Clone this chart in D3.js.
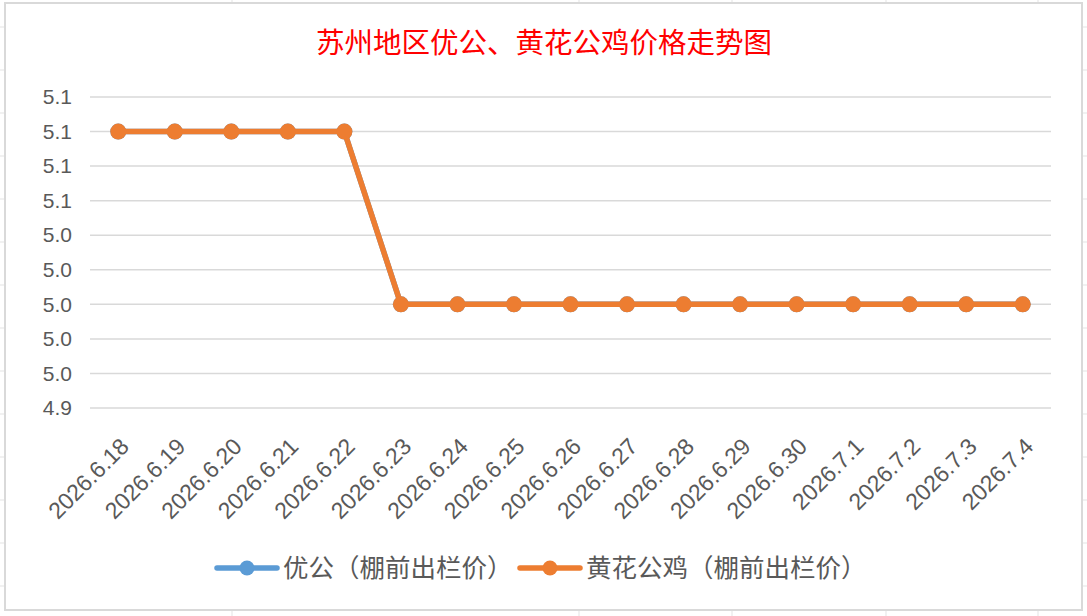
<!DOCTYPE html>
<html>
<head>
<meta charset="utf-8">
<script src="https://cdn.jsdelivr.net/npm/d3@7/dist/d3.min.js"></script>
<style>
  html, body { margin: 0; padding: 0; background: #fff; }
  svg { display: block; }
</style>
</head>
<body>
<div id="chart"></div>
<script>
// 数据
var dates = ["2026.6.18","2026.6.19","2026.6.20","2026.6.21","2026.6.22","2026.6.23","2026.6.24","2026.6.25","2026.6.26","2026.6.27","2026.6.28","2026.6.29","2026.6.30","2026.7.1","2026.7.2","2026.7.3","2026.7.4"];
var youGong = [5.10,5.10,5.10,5.10,5.10,5.00,5.00,5.00,5.00,5.00,5.00,5.00,5.00,5.00,5.00,5.00,5.00];
var huangHua = [5.10,5.10,5.10,5.10,5.10,5.00,5.00,5.00,5.00,5.00,5.00,5.00,5.00,5.00,5.00,5.00,5.00];
var yTicks = [4.94,4.96,4.98,5.00,5.02,5.04,5.06,5.08,5.10,5.12];
var seriesNames = ["优公（棚前出栏价）","黄花公鸡（棚前出栏价）"];
var title = "苏州地区优公、黄花公鸡价格走势图";

var width = 1087, height = 616;
var padding = { left: 90, right: 36, top: 97, bottom: 208 };
var colorArr = ["#5B9BD5", "#ED7D31"];
var textColor = "#595959";

var svg = d3.select("#chart").append("svg")
  .attr("width", width)
  .attr("height", height);

// 背景表格线
var sheet = svg.append("g").attr("class", "sheet");
d3.range(27, height, 43).forEach(function(y){
  sheet.append("line").attr("x1", 0).attr("x2", width).attr("y1", y).attr("y2", y)
    .attr("stroke", "#e3e3e3").attr("stroke-width", 1);
});
[232, 579, 732, 886, 1038].forEach(function(x){
  sheet.append("line").attr("x1", x).attr("x2", x).attr("y1", 0).attr("y2", height)
    .attr("stroke", "#e3e3e3").attr("stroke-width", 1);
});

// 图表区
svg.append("rect")
  .attr("x", 5).attr("y", 3)
  .attr("width", 1077).attr("height", 607)
  .attr("fill", "#fff")
  .attr("stroke", "#d9d9d9")
  .attr("stroke-width", 2);

svg.append("text")
  .attr("x", 544).attr("y", 53)
  .attr("text-anchor", "middle")
  .attr("fill", "#FF0000")
  .style("font-family", "'Noto Sans CJK SC', sans-serif")
  .style("font-size", "28.5px")
  .text(title);

var x_scale = d3.scaleBand()
  .domain(dates)
  .range([padding.left, width - padding.right]);
var y_scale = d3.scaleLinear()
  .domain([4.94, 5.12])
  .range([height - padding.bottom, padding.top]);

// 网格线
svg.append("g").attr("class", "grid")
  .selectAll("line")
  .data(yTicks)
  .enter().append("line")
  .attr("x1", padding.left).attr("x2", width - padding.right)
  .attr("y1", function(d){ return y_scale(d); })
  .attr("y2", function(d){ return y_scale(d); })
  .attr("stroke", "#d9d9d9")
  .attr("stroke-width", 1.5);

// y 轴
var y_axis = d3.axisLeft(y_scale).tickValues(yTicks).tickFormat(d3.format(".1f")).tickSize(0).tickPadding(18);
var yg = svg.append("g")
  .attr("transform", "translate(" + padding.left + ",0)")
  .call(y_axis);
yg.select(".domain").remove();
yg.selectAll("text")
  .attr("fill", textColor)
  .style("font-family", "'Liberation Sans', Arial, sans-serif")
  .style("font-size", "21px");

// x 轴
var x_axis = d3.axisBottom(x_scale).tickSize(0);
var xg = svg.append("g")
  .attr("transform", "translate(0," + (height - padding.bottom) + ")")
  .call(x_axis);
xg.select(".domain").remove();
xg.selectAll("text")
  .attr("fill", textColor)
  .style("font-family", "'Liberation Sans', Arial, sans-serif")
  .style("font-size", "23px")
  .attr("text-anchor", "end")
  .attr("dy", null)
  .attr("y", 0)
  .attr("transform", "translate(12,40) rotate(-45)");

// 折线
var lineCurve = d3.line()
  .x(function(d, i){ return x_scale(dates[i]) + x_scale.bandwidth() / 2; })
  .y(function(d){ return y_scale(d); });

[youGong, huangHua].forEach(function(values, k){
  var g = svg.append("g").attr("class", "series");
  g.append("path")
    .attr("d", lineCurve(values))
    .attr("fill", "none")
    .attr("stroke", colorArr[k])
    .attr("stroke-width", 5.5)
    .attr("stroke-linejoin", "round");
  g.selectAll("circle")
    .data(values)
    .enter().append("circle")
    .attr("cx", function(d, i){ return x_scale(dates[i]) + x_scale.bandwidth() / 2; })
    .attr("cy", function(d){ return y_scale(d); })
    .attr("r", 8)
    .attr("fill", colorArr[k]);
});

// 图例
var legendX = [217, 520];
var legend = svg.append("g").attr("class", "legend")
  .selectAll("g")
  .data(seriesNames)
  .enter().append("g")
  .attr("transform", function(d, i){ return "translate(" + legendX[i] + ",568)"; });
legend.append("line")
  .attr("x1", 0).attr("x2", 60).attr("y1", 0).attr("y2", 0)
  .attr("stroke", function(d, i){ return colorArr[i]; })
  .attr("stroke-width", 5.5)
  .attr("stroke-linecap", "round");
legend.append("circle")
  .attr("cx", 30).attr("cy", 0).attr("r", 7.5)
  .attr("fill", function(d, i){ return colorArr[i]; });
legend.append("text")
  .attr("x", 66).attr("y", 9)
  .attr("fill", textColor)
  .style("font-family", "'Noto Sans CJK SC', sans-serif")
  .style("font-size", "25.5px")
  .text(function(d){ return d; });
</script>
</body>
</html>
